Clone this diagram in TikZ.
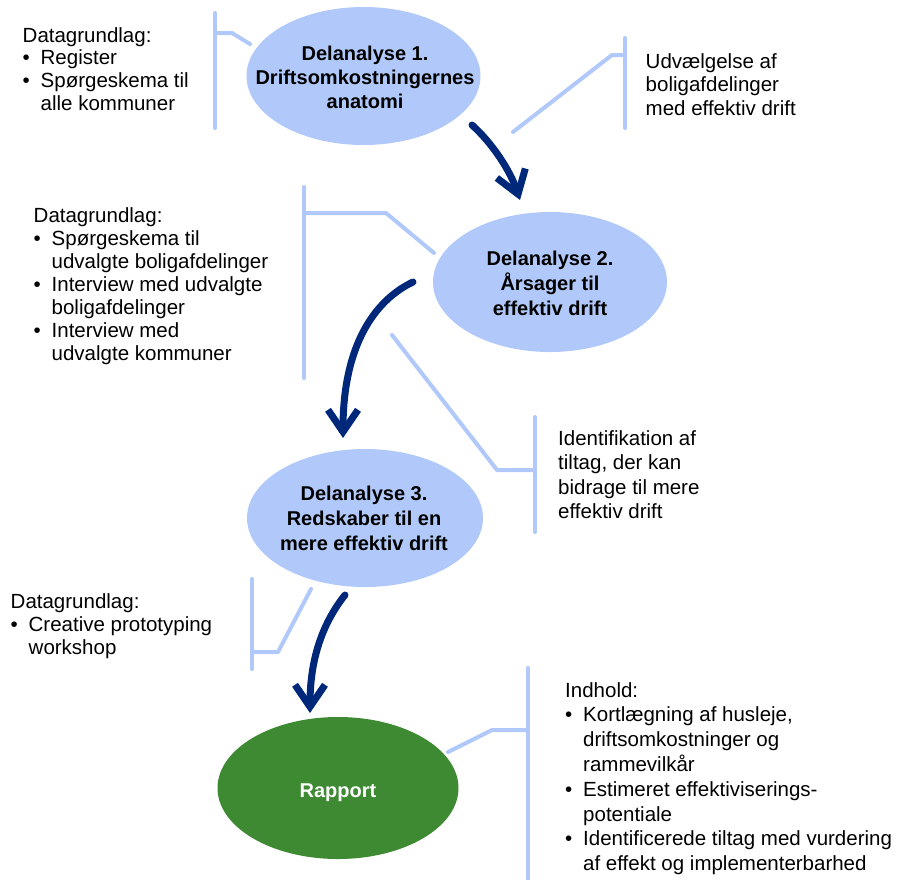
\documentclass[tikz,border=0pt]{standalone}
\usepackage{fontspec}
\setmainfont{Liberation Sans}
\usetikzlibrary{arrows.meta,shapes.geometric}
\definecolor{lblue}{HTML}{B0C9FA}
\definecolor{navy}{HTML}{00287A}
\definecolor{rgreen}{HTML}{3E8A32}
\newlength\bind \setlength\bind{18pt}
\newcommand\tline[1]{\hbox{#1}}
\newcommand\bline[1]{\hbox{\makebox[\bind][l]{•}#1}}
\newcommand\kline[1]{\hbox{\hspace*{\bind}#1}}
\newcommand\mline[1]{\hbox to 0pt{\hss#1\hss}}
\newcommand\tblock[2]{\vtop{\fontsize{20.5}{#1}\selectfont #2}}
\newcommand\bblock[2]{\vtop{\fontsize{20}{#1}\selectfont\bfseries #2}}
\tikzset{
  ell/.style={ellipse, fill=lblue, draw=none, inner sep=0pt},
  call/.style={draw=lblue, line width=4pt, line cap=round, line join=round},
  flow/.style={draw=navy, line width=7pt, line cap=round,
    -{Straight Barb[length=22pt,width=30pt]}},
  txt/.style={anchor=base west, inner sep=0pt},
  ctxt/.style={anchor=base, inner sep=0pt}
}
\begin{document}
\begin{tikzpicture}[x=1pt,y=-1pt]
\useasboundingbox (0,0) rectangle (909,879);
% ellipses
\node[ell, minimum width=234pt, minimum height=138pt] (d1) at (363.5,76) {};
\node[ell, minimum width=234pt, minimum height=140pt] (d2) at (550,282) {};
\node[ell, minimum width=236pt, minimum height=138pt] (d3) at (365,518) {};
\node[ell, fill=rgreen, minimum width=241pt, minimum height=142pt] (rap) at (338,788) {};
\node[ctxt] (d1t) at (365,60) {\bblock{24pt}{\mline{Delanalyse 1.}\mline{Driftsomkostningernes}\mline{anatomi}}};
\node[ctxt] (d2t) at (550,265) {\bblock{25pt}{\mline{Delanalyse 2.}\mline{Årsager til}\mline{effektiv drift}}};
\node[ctxt] (d3t) at (364,500) {\bblock{25pt}{\mline{Delanalyse 3.}\mline{Redskaber til en}\mline{mere effektiv drift}}};
\node[ctxt, text=white] (rapt) at (338,797) {\bblock{25pt}{\mline{Rapport}}};
% callout brackets
\coordinate (b1t) at (215,13); \coordinate (b1b) at (215,128);
\coordinate (b1j) at (215,33); \coordinate (b1k) at (232,33); \coordinate (b1e) at (250,44);
\draw[call] (b1t) -- (b1b);
\draw[call] (b1j) -- (b1k) -- (b1e);
\coordinate (b2t) at (625,38); \coordinate (b2b) at (625,128);
\coordinate (b2j) at (625,55); \coordinate (b2k) at (612,55); \coordinate (b2e) at (513,132);
\draw[call] (b2t) -- (b2b);
\draw[call] (b2j) -- (b2k) -- (b2e);
\coordinate (b3t) at (304,187); \coordinate (b3b) at (304,378);
\coordinate (b3j) at (304,213); \coordinate (b3k) at (386,213); \coordinate (b3e) at (434,253);
\draw[call] (b3t) -- (b3b);
\draw[call] (b3j) -- (b3k) -- (b3e);
\coordinate (b4t) at (535,417); \coordinate (b4b) at (535,532);
\coordinate (b4j) at (535,470); \coordinate (b4k) at (497,470); \coordinate (b4e) at (392,335);
\draw[call] (b4t) -- (b4b);
\draw[call] (b4j) -- (b4k) -- (b4e);
\coordinate (b5t) at (252,579); \coordinate (b5b) at (252,669);
\coordinate (b5j) at (252,652); \coordinate (b5k) at (278,652); \coordinate (b5e) at (311,589);
\draw[call] (b5t) -- (b5b);
\draw[call] (b5j) -- (b5k) -- (b5e);
\coordinate (b6t) at (528,668); \coordinate (b6b) at (528,885);
\coordinate (b6j) at (528,730); \coordinate (b6k) at (492,730); \coordinate (b6e) at (448,752);
\draw[call] (b6t) -- (b6b);
\draw[call] (b6j) -- (b6k) -- (b6e);
% flow arrows
\coordinate (a1s) at (472,125); \coordinate (a1e) at (520,200);
\draw[flow] (a1s) .. controls (492,143) and (510,170) .. (a1e);
\coordinate (a2s) at (413,282); \coordinate (a2e) at (343,438);
\draw[flow] (a2s) .. controls (375,300) and (343,345) .. (a2e);
\coordinate (a3s) at (345,595); \coordinate (a3e) at (310,713);
\draw[flow] (a3s) .. controls (325,620) and (310,655) .. (a3e);
% text blocks
\node[txt] (t1) at (22.5,42) {\tblock{22.8pt}{\tline{Datagrundlag:}\bline{Register}\bline{Spørgeskema til}\kline{alle kommuner}}};
\node[txt] (t2) at (33.5,222) {\tblock{23pt}{\tline{Datagrundlag:}\bline{Spørgeskema til}\kline{udvalgte boligafdelinger}\bline{Interview med udvalgte}\kline{boligafdelinger}\bline{Interview med}\kline{udvalgte kommuner}}};
\node[txt] (t3) at (10.5,608) {\tblock{23pt}{\tline{Datagrundlag:}\bline{Creative prototyping}\kline{workshop}}};
\node[txt] (t4) at (645.5,68) {\tblock{23.5pt}{\tline{Udvælgelse af}\tline{boligafdelinger}\tline{med effektiv drift}}};
\node[txt] (t5) at (558,445) {\tblock{24.5pt}{\tline{Identifikation af}\tline{tiltag, der kan}\tline{bidrage til mere}\tline{effektiv drift}}};
\node[txt] (t6) at (565,697) {\tblock{24.8pt}{\tline{Indhold:}\bline{Kortlægning af husleje,}\kline{driftsomkostninger og}\kline{rammevilkår}\bline{Estimeret effektiviserings-}\kline{potentiale}\bline{Identificerede tiltag med vurdering}\kline{af effekt og implementerbarhed}}};
\end{tikzpicture}
\end{document}
